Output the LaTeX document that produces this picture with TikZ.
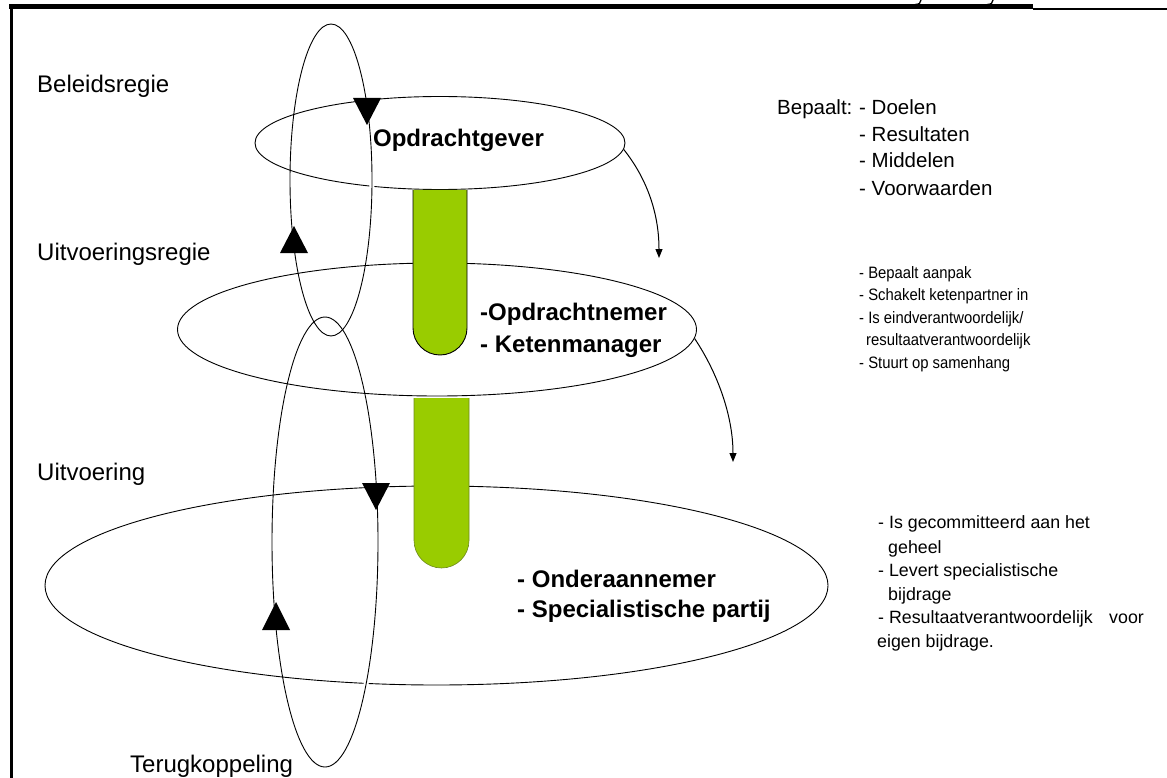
\documentclass[tikz,border=0pt]{standalone}
\usepackage{fontspec}
\setmainfont{Liberation Sans}
\newfontfamily\narrowsans{Liberation Sans}[FakeStretch=0.9]
\usetikzlibrary{arrows.meta,shapes.geometric}
\definecolor{tubegreen}{HTML}{99CC00}
\definecolor{tubeedge}{HTML}{6E8A1E}
\begin{document}
\begin{tikzpicture}[x=1pt,y=-1pt,
  ring/.style={draw, ellipse, line width=0.9pt, inner sep=0pt},
  halo/.style={draw=white, line width=5pt},
  tiptri/.style={fill=black},
  flow/.style={line width=1pt, -{Triangle[width=7pt,length=9pt]}},
  level/.style={anchor=base west, inner sep=0pt, font=\fontsize{24}{28}\selectfont},
  actor/.style={anchor=base west, inner sep=0pt, font=\fontsize{24}{28}\selectfont\bfseries},
  taskA/.style={anchor=base west, inner sep=0pt, font=\fontsize{20.5}{24}\selectfont},
  taskB/.style={anchor=base west, inner sep=0pt, font=\narrowsans\fontsize{16.5}{20}\selectfont},
  taskC/.style={anchor=base west, inner sep=0pt, font=\fontsize{17.8}{21}\selectfont}]
\useasboundingbox (0,0) rectangle (1167,778);

% frame
\fill (9,4) rectangle (1033,9.5);
\fill (1033,8) rectangle (1167,10);
\fill (9.5,4) rectangle (12.5,778);
\draw[line width=1.3pt] (921,0) .. controls (921,3) and (919,4.5) .. (915,4.5);
\draw[line width=1.3pt] (993,0) .. controls (993,3) and (991,4.5) .. (987,4.5);

% three levels
\node[ring, minimum width=370pt, minimum height=93pt] (e1) at (440,143) {};
\node[ring, minimum width=519pt, minimum height=133pt] (e2) at (437,329.5) {};
\node[ring, minimum width=783pt, minimum height=199pt] (e3) at (436.5,585.5) {};

% green tubes
\path[fill=tubegreen, draw=black, line width=0.9pt]
  (413,190) -- (413,328) arc[start angle=180, end angle=0, radius=27] -- (467,190);
\path[fill=tubegreen, draw=tubeedge, line width=0.6pt]
  (414,398) -- (414,540.5) arc[start angle=180, end angle=0, radius=27.5] -- (469,398);

% feedback loops
\draw[halo] (372,182) -- (371.8,195);
\draw[halo] (367.4,677) -- (364.7,691);
\node[ring, minimum width=82pt, minimum height=312pt] (loopA) at (331,180) {};
\node[ring, minimum width=106pt, minimum height=450pt] (loopB) at (325,542) {};
\fill[tiptri] (353,98) -- (381,98) -- (367,125) -- cycle;
\fill[tiptri] (280,253) -- (308,253) -- (294,226) -- cycle;
\fill[tiptri] (362,483) -- (390,483) -- (376,510) -- cycle;
\fill[tiptri] (262,630) -- (290,630) -- (276,602) -- cycle;

% hand-over arrows
\coordinate (c1end) at (659,258);
\coordinate (c2end) at (733,462);
\draw[flow] (e1.-2) .. controls (648,180) and (659,215) .. (c1end);
\draw[flow] (e2.-2) .. controls (717,372) and (733,415) .. (c2end);

% level labels
\node[level] (lbl1) at (37,93) {Beleidsregie};
\node[level] (lbl2) at (37,260) {Uitvoeringsregie};
\node[level] (lbl3) at (37,480) {Uitvoering};
\node[level] (lbl4) at (130,772) {Terugkoppeling};

% actors
\node[actor, anchor=base] (a1) at (458.5,147) {Opdrachtgever};
\node[actor] (a2) at (480,320) {-Opdrachtnemer};
\node[actor] (a3) at (480,352) {- Ketenmanager};
\node[actor] (a4) at (517,587) {- Onderaannemer};
\node[actor] (a5) at (517,617) {- Specialistische partij};

% tasks of the client
\node[taskA] (t0) at (777,115) {Bepaalt:};
\node[taskA] (t1) at (859,115) {- Doelen};
\node[taskA] (t2) at (859,142) {- Resultaten};
\node[taskA] (t3) at (859,168) {- Middelen};
\node[taskA] (t4) at (859,196) {- Voorwaarden};

% tasks of the chain manager
\node[taskB] (u1) at (859,278) {- Bepaalt aanpak};
\node[taskB] (u2) at (859,300.5) {- Schakelt ketenpartner in};
\node[taskB] (u3) at (859,323) {- Is eindverantwoordelijk/};
\node[taskB] (u4) at (866,345.5) {resultaatverantwoordelijk};
\node[taskB] (u5) at (859,368) {- Stuurt op samenhang};

% tasks of the subcontractor
\node[taskC] (v1) at (878,528) {- Is gecommitteerd aan het};
\node[taskC] (v2) at (888,553) {geheel};
\node[taskC] (v3) at (878,576) {- Levert specialistische};
\node[taskC] (v4) at (888,600) {bijdrage};
\node[taskC] (v5) at (878,623) {- Resultaatverantwoordelijk};
\node[taskC] (v6) at (1109,623) {voor};
\node[taskC] (v7) at (877,647) {eigen bijdrage.};
\end{tikzpicture}
\end{document}
